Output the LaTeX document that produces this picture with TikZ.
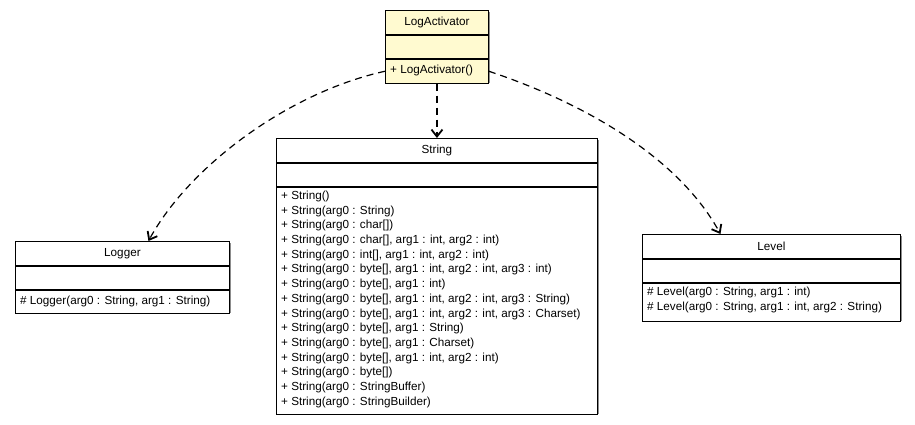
\documentclass[tikz,border=0pt]{standalone}
\usepackage{fontspec}
\setmainfont{Liberation Sans}
\usetikzlibrary{arrows.meta,calc}
\definecolor{cream}{RGB}{255,250,208}
\definecolor{shade}{RGB}{140,140,140}
\tikzset{
  row/.style={draw=black, line width=0.9pt, inner sep=0pt, anchor=north west,
              minimum width=#1, fill=white, font=\fontsize{11.7}{15}\selectfont},
  mtext/.style={inner sep=0pt, anchor=north west, align=left,
              font=\fontsize{11.7}{14.7}\selectfont},
  shadowbox/.style={fill=shade, draw=none},
  dep/.style={draw=black, line width=1.2pt, dash pattern=on 7pt off 5pt,
              -{Straight Barb[length=7pt,width=11pt,line width=1.8pt]}}
}
\begin{document}
\begin{tikzpicture}[x=1pt,y=-1pt]
\useasboundingbox (0,0) rectangle (915,424);
% shadows
\fill[shadowbox] (387,12) rectangle (490,83);
\fill[shadowbox] (278,140) rectangle (599,414);
\fill[shadowbox] (17,243) rectangle (231,313);
\fill[shadowbox] (644,236) rectangle (902,321);

% LogActivator
\node[row=103pt, minimum height=24pt, fill=cream] (la-t) at (385,10) {LogActivator};
\node[row=103pt, minimum height=23pt, fill=cream] (la-a) at (la-t.south west) {};
\node[row=103pt, minimum height=24pt, fill=cream] (la-m) at (la-a.south west) {};
\node[mtext] at ($(la-m.north west)+(5,6)$) {+ LogActivator()};

% String
\node[row=321pt, minimum height=24pt] (st-t) at (276,138) {String};
\node[row=321pt, minimum height=23pt] (st-a) at (st-t.south west) {};
\node[row=321pt, minimum height=227pt] (st-m) at (st-a.south west) {};
\node[mtext] at ($(st-m.north west)+(5,4)$) {%
+ String()\\
+ String(arg0 : String)\\
+ String(arg0 : char[])\\
+ String(arg0 : char[], arg1 : int, arg2 : int)\\
+ String(arg0 : int[], arg1 : int, arg2 : int)\\
+ String(arg0 : byte[], arg1 : int, arg2 : int, arg3 : int)\\
+ String(arg0 : byte[], arg1 : int)\\
+ String(arg0 : byte[], arg1 : int, arg2 : int, arg3 : String)\\
+ String(arg0 : byte[], arg1 : int, arg2 : int, arg3 : Charset)\\
+ String(arg0 : byte[], arg1 : String)\\
+ String(arg0 : byte[], arg1 : Charset)\\
+ String(arg0 : byte[], arg1 : int, arg2 : int)\\
+ String(arg0 : byte[])\\
+ String(arg0 : StringBuffer)\\
+ String(arg0 : StringBuilder)};

% Logger
\node[row=214pt, minimum height=24pt] (lg-t) at (15,241) {Logger};
\node[row=214pt, minimum height=23pt] (lg-a) at (lg-t.south west) {};
\node[row=214pt, minimum height=23pt] (lg-m) at (lg-a.south west) {};
\node[mtext] at ($(lg-m.north west)+(5,6)$) {\# Logger(arg0 : String, arg1 : String)};

% Level
\node[row=258pt, minimum height=24pt] (lv-t) at (642,234) {Level};
\node[row=258pt, minimum height=23pt] (lv-a) at (lv-t.south west) {};
\node[row=258pt, minimum height=38pt] (lv-m) at (lv-a.south west) {};
\node[mtext] at ($(lv-m.north west)+(5,4.5)$) {\# Level(arg0 : String, arg1 : int)\\
\# Level(arg0 : String, arg1 : int, arg2 : String)};

% dependencies
\draw[dep] (la-m.west) .. controls (290,92) and (190,165) .. ($(lg-t.north)+(26,0)$);
\draw[dep] (la-m.south) -- (st-t.north);
\draw[dep] (la-m.east) .. controls (590,105) and (680,160) .. ($(lv-t.north)+(-51,0)$);
\end{tikzpicture}
\end{document}
